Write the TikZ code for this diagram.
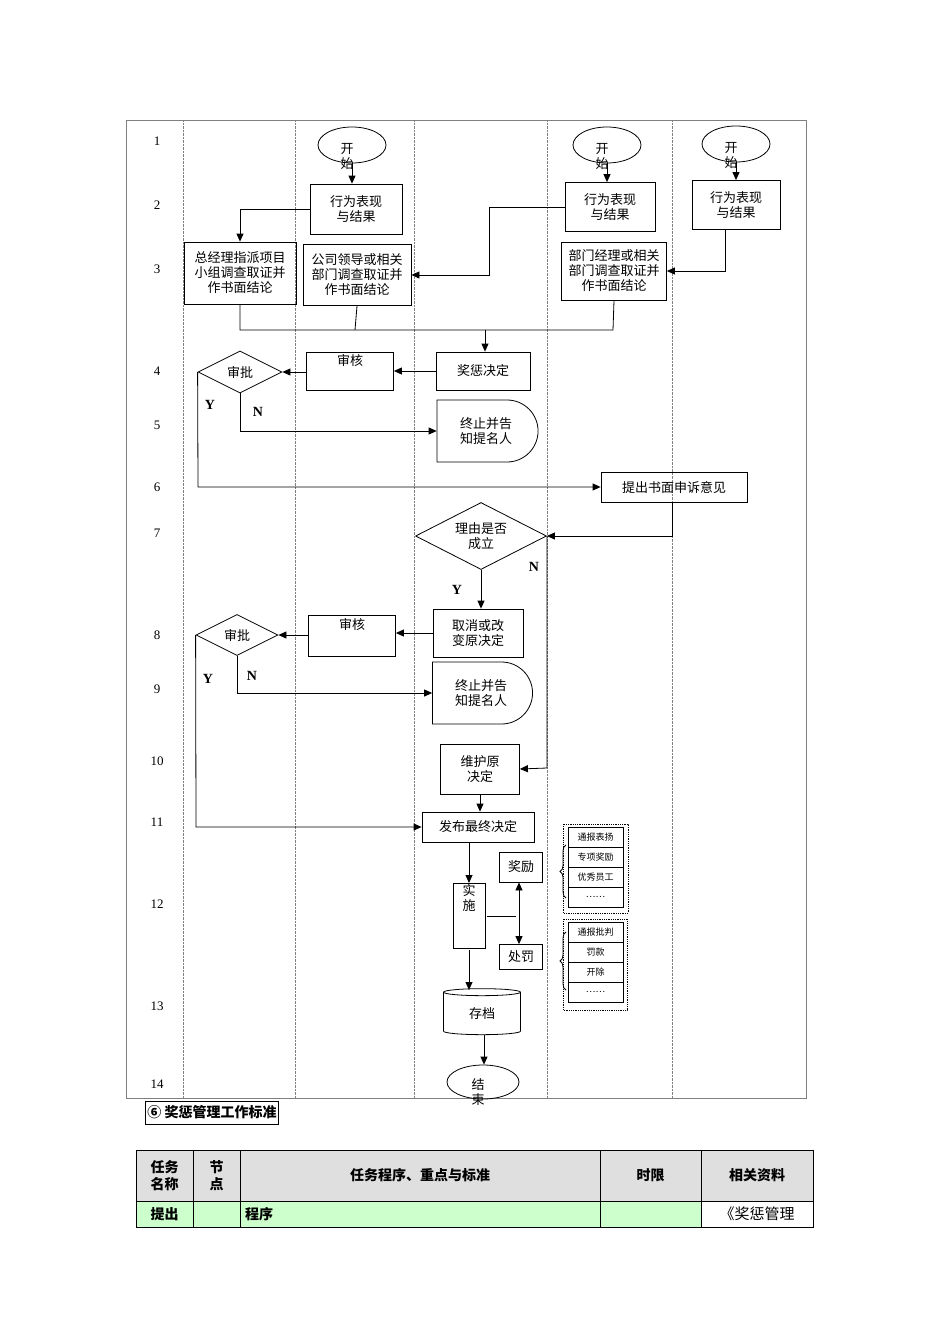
\documentclass[tikz,border=0pt]{standalone}
\usepackage{fontspec}
\setmainfont{Liberation Serif}
\newfontfamily\cjk{Noto Sans CJK SC}
\usetikzlibrary{shapes.geometric,shapes.misc,arrows.meta,decorations.pathreplacing}
\begin{document}
\begin{tikzpicture}[x=1pt,y=-1pt,
 every node/.style={font=\cjk\fontsize{13}{15}\selectfont,align=center,inner sep=1pt},
 box/.style={draw,thick,rectangle},
 dia/.style={draw,thick,diamond,aspect=2,inner sep=0pt},
 ell/.style={draw,thick,ellipse,minimum width=68,minimum height=36},
 term/.style={draw,thick,rounded rectangle,rounded rectangle left arc=none},
 arr/.style={thick,-{Triangle[length=8pt,width=7pt]}},
 ln/.style={thick},
 lane/.style={gray,densely dotted,thin},
 num/.style={font=\fontsize{13}{15}\selectfont},
 yn/.style={font=\bfseries\fontsize{14}{16}\selectfont},
 item/.style={draw,thick,minimum width=55,minimum height=20,font=\cjk\fontsize{9}{10}\selectfont},
 hd/.style={draw,thick,fill=gray!25,font=\cjk\bfseries\fontsize{14}{17}\selectfont},
 gc/.style={draw,thick,fill=green!20,font=\cjk\bfseries\fontsize{14}{17}\selectfont}]
\useasboundingbox (0,0) rectangle (950,1344);
% frame and lanes
\draw[gray,thick] (126,120) rectangle (806,1098);
\foreach \x in {183,295,414,547,672} \draw[lane] (\x,120) -- (\x,1098);
\foreach \n/\y in {1/141,2/205,3/269,4/371,5/425,6/487,7/533,8/635,9/689,10/761,11/822,12/904,13/1006,14/1084}
 \node[num] at (157,\y) {\n};
% starts
\node[ell] (s1) at (352,145) {};
\node[ell] (s2) at (607,145) {};
\node[ell] (s3) at (736,144) {};
\node at (347,156) {开\\始};
\node at (602,156) {开\\始};
\node at (731,155) {开\\始};
\node[box,minimum width=92,minimum height=50] (b1) at (356,209) {行为表现\\与结果};
\node[box,minimum width=90,minimum height=49] (b2) at (610,207) {行为表现\\与结果};
\node[box,minimum width=88,minimum height=49] (b3) at (736,205) {行为表现\\与结果};
\draw[arr] (s1.south) -- (b1.north -| s1.south);
\draw[arr] (s2.south) -- (b2.north -| s2.south);
\draw[arr] (s3.south) -- (b3.north -| s3.south);
\node[box,minimum width=112,minimum height=62] (c1) at (240,273) {总经理指派项目\\小组调查取证并\\作书面结论};
\node[box,minimum width=108,minimum height=61] (c2) at (357,275) {公司领导或相关\\部门调查取证并\\作书面结论};
\node[box,minimum width=105,minimum height=58] (c3) at (614,271) {部门经理或相关\\部门调查取证并\\作书面结论};
\draw[arr] (b1.west) -| (c1.north);
\draw[arr] (b2.west) -- (489,207) |- (c2.east);
\draw[arr] (725,230) |- (c3.east);
\coordinate (m) at (485,330);
\draw[ln] (c1.south) -- (240,330) -- (613,330) -- (c3.south);
\draw[ln] (c2.south) -- (355,330);
\node[box,minimum width=94,minimum height=38] (j) at (483,371) {奖惩决定};
\draw[arr] (m) -- (j.north -| m);
\node[box,minimum width=87,minimum height=38,anchor=north] (h1) at (350,352) {审核\\[8pt]};
\node[dia,minimum width=84,minimum height=42] (d1) at (240,372) {审批};
\draw[arr] (j.west) -- (h1.east |- j.west);
\draw[arr] (h1.west |- d1.east) -- (d1.east);
\node[term,minimum width=103,minimum height=62] (t1) at (486,431) {终止并告\\知提名人};
\draw[arr] (d1.south) |- (t1.west);
\node[yn] at (258,412) {N};
\node[yn] at (210,405) {Y};
\node[box,minimum width=146,minimum height=30] (p) at (674,487) {提出书面申诉意见};
\draw[arr] (d1.west) -- (198,487) -- (p.west);
\node[dia,minimum width=131,minimum height=67] (d2) at (481,536) {理由是否\\成立};
\draw[arr] (672,502) |- (d2.east);
\node[box,minimum width=90,minimum height=48] (q) at (478,633) {取消或改\\变原决定};
\draw[arr] (d2.south) -- (q.north -| d2.south);
\node[yn] at (457,590) {Y};
\node[box,minimum width=87,minimum height=41,anchor=north] (h2) at (352,615) {审核\\[8pt]};
\node[dia,minimum width=82,minimum height=41] (d3) at (237,635) {审批};
\draw[arr] (q.west) -- (h2.east |- q.west);
\draw[arr] (h2.west |- d3.east) -- (d3.east);
\node[term,minimum width=102,minimum height=62] (t2) at (481,693) {终止并告\\知提名人};
\draw[arr] (d3.south) |- (t2.west);
\node[yn] at (252,676) {N};
\node[yn] at (208,679) {Y};
\node[box,minimum width=79,minimum height=50] (w) at (480,769) {维护原\\决定};
\draw[arr] (d2.east) -- (547,768) -- (w.east);
\node[yn] at (534,567) {N};
\node[box,minimum width=112,minimum height=30] (f) at (478,827) {发布最终决定};
\draw[arr] (w.south) -- (f.north -| w.south);
\draw[arr] (d3.west) -- (196,827) -- (f.west);
\node[box,minimum width=32,minimum height=63,anchor=north] (sh) at (469,883) {实\\施\\[22pt]};
\draw[arr] (469,842) -- (sh.north);
\node[box,minimum width=43,minimum height=30] (r1) at (521,867) {奖励};
\node[box,minimum width=43,minimum height=25] (r2) at (521,957) {处罚};
\draw[ln] (487,916) -- (516,916);
\draw[thick,{Triangle[length=8pt,width=7pt]}-{Triangle[length=8pt,width=7pt]}] (r1.south -| 519,0) -- (r2.north -| 519,0);
\node[draw,thick,cylinder,shape border rotate=90,aspect=0.25,minimum width=77,minimum height=46] (cy) at (482,1014) {存档};
\draw[arr] (469,950) -- (469,990);
\node[ell,minimum width=72,minimum height=34] (e) at (483,1082) {};
\node at (478,1092) {结\\束};
\draw[arr] (cy.south -| 484,0) -- (e.north -| 484,0);
% lists
\draw[thick,densely dotted] (563,824) rectangle (628,913);
\draw[thick,densely dotted] (563,919) rectangle (627,1010);
\foreach \t [count=\i] in {通报表扬,专项奖励,优秀员工,……}
 \node[item] (a\i) at (595.5,817+\i*20) {\t};
\foreach \t [count=\i] in {通报批判,罚款,开除,……}
 \node[item] (k\i) at (595.5,912+\i*20) {\t};
\draw[thick,decorate,decoration={brace,amplitude=6pt}] (566,898) -- (566,845);
\draw[thick,decorate,decoration={brace,amplitude=6pt}] (566,990) -- (566,932);
% bottom
\node[draw,thick,anchor=west,font=\cjk\bfseries\fontsize{14}{16}\selectfont,inner sep=2pt,minimum height=23] (ttl) at (145,1112.5) {⑥ 奖惩管理工作标准};
\node[hd,minimum width=57,minimum height=51] (h1c) at (164.5,1175.5) {任务\\名称};
\node[hd,minimum width=47,minimum height=51] (h2c) at (216.5,1175.5) {节\\点};
\node[hd,minimum width=360,minimum height=51] (h3c) at (420,1175.5) {任务程序、重点与标准};
\node[hd,minimum width=101,minimum height=51] (h4c) at (650.5,1175.5) {时限};
\node[hd,minimum width=112,minimum height=51] (h5c) at (757,1175.5) {相关资料};
\node[gc,minimum width=57,minimum height=26] (g1) at (164.5,1214) {提出};
\node[gc,minimum width=47,minimum height=26] (g2) at (216.5,1214) {};
\node[gc,minimum width=360,minimum height=26,text width=350,align=left] (g3) at (420,1214) {程序};
\node[gc,minimum width=101,minimum height=26] (g4) at (650.5,1214) {};
\node[draw,thick,minimum width=112,minimum height=26,font=\cjk\fontsize{15}{17}\selectfont] (g5) at (757,1214) {《奖惩管理};
\end{tikzpicture}
\end{document}
